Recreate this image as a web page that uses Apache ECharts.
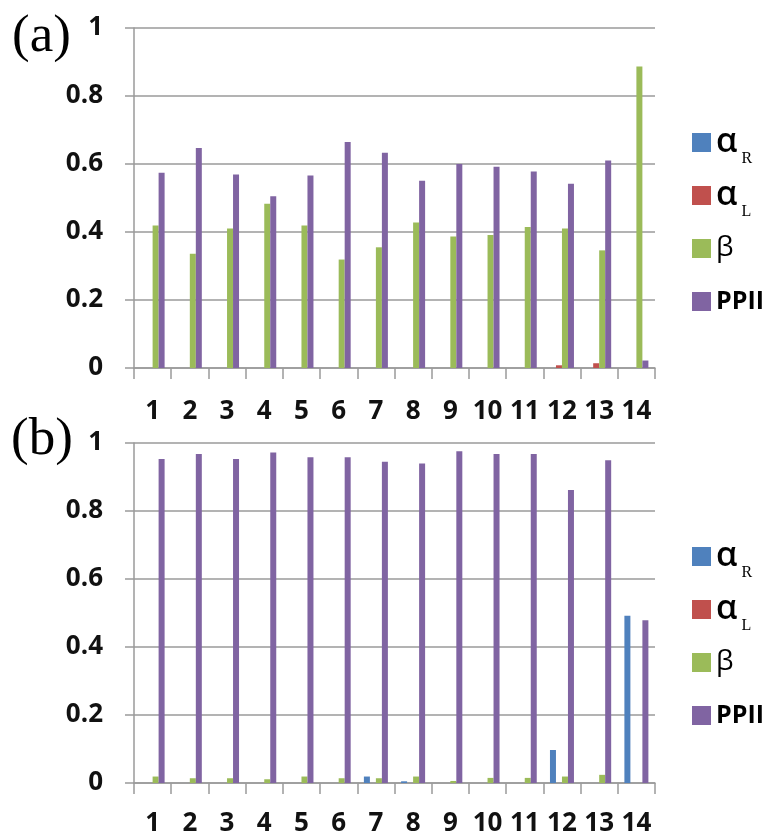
<!DOCTYPE html>
<html>
<head>
<meta charset="utf-8">
<script src="https://cdn.jsdelivr.net/npm/echarts@6/dist/echarts.min.js"></script>
<style>
  html, body { margin: 0; padding: 0; background: #fff; }
  #chart { width: 774px; height: 839px; }
</style>
</head>
<body>
<div id="chart"></div>
<script>
// ---- data ----
const categories = ['1', '2', '3', '4', '5', '6', '7', '8', '9', '10', '11', '12', '13', '14'];
const seriesNames = ['αR', 'αL', 'β', 'PPII'];

// panel (a)
const aAlphaR = [0, 0, 0, 0, 0, 0, 0, 0, 0, 0, 0, 0, 0, 0];
const aAlphaL = [0, 0, 0, 0, 0, 0, 0, 0, 0, 0, 0, 0.008, 0.014, 0];
const aBeta   = [0.419, 0.336, 0.410, 0.483, 0.419, 0.319, 0.355, 0.428, 0.387, 0.391, 0.415, 0.410, 0.346, 0.887];
const aPPII   = [0.574, 0.647, 0.569, 0.505, 0.566, 0.665, 0.633, 0.551, 0.600, 0.592, 0.578, 0.542, 0.610, 0.022];

// panel (b)
const bAlphaR = [0, 0, 0, 0, 0, 0, 0.019, 0.005, 0, 0, 0, 0.097, 0, 0.492];
const bAlphaL = [0, 0, 0, 0, 0, 0, 0, 0, 0, 0, 0, 0, 0, 0];
const bBeta   = [0.019, 0.014, 0.014, 0.011, 0.019, 0.014, 0.014, 0.019, 0.006, 0.015, 0.015, 0.019, 0.024, 0];
const bPPII   = [0.953, 0.968, 0.953, 0.972, 0.958, 0.958, 0.945, 0.940, 0.976, 0.968, 0.968, 0.862, 0.949, 0.479];

const colors = ['#4F81BD', '#C0504D', '#9BBB59', '#8064A2'];

// ---- chart ----
const chart = echarts.init(document.getElementById('chart'), null, { renderer: 'canvas' });

const labelFont = { fontFamily: 'Open Sans', fontWeight: 'bold', fontSize: 26, color: '#111' };
const gridColor = '#9a9a9a';

function xAxis(gridIndex, margin) {
  return {
    type: 'category', gridIndex: gridIndex, data: categories,
    axisLine: { show: true, lineStyle: { color: gridColor, width: 1.5 } },
    axisTick: { show: true, length: 11, lineStyle: { color: gridColor, width: 1.5 } },
    axisLabel: Object.assign({ interval: 0, margin: margin }, labelFont),
    splitLine: { show: false }
  };
}
function yAxis(gridIndex) {
  return {
    type: 'value', gridIndex: gridIndex, min: 0, max: 1, interval: 0.2,
    axisLine: { show: true, lineStyle: { color: gridColor, width: 1.5 } },
    axisTick: { show: true, length: 9, lineStyle: { color: gridColor, width: 1.5 } },
    axisLabel: Object.assign({ margin: 31 }, labelFont),
    splitLine: { show: true, lineStyle: { color: gridColor, width: 1.5 } }
  };
}

function legendFormatter(name) {
  if (name === 'αR') return '{g|α}{s|R}';
  if (name === 'αL') return '{g|α}{s|L}';
  if (name === 'β') return '{b|β}';
  return '{p|PPII}';
}
const legendRich = {
  g: { fontFamily: 'Open Sans', fontWeight: 600, fontSize: 34, lineHeight: 48, color: '#000' },
  s: { fontFamily: 'Liberation Serif', fontSize: 16, lineHeight: 48, padding: [32, 0, 0, 4], color: '#000' },
  b: { fontFamily: 'Open Sans', fontSize: 28, lineHeight: 48, color: '#000' },
  p: { fontFamily: 'Open Sans', fontWeight: 'bold', fontSize: 25, lineHeight: 48, color: '#000' }
};
function legend(top) {
  return {
    orient: 'vertical', left: 692, top: top, padding: 0, itemGap: 5,
    itemWidth: 19, itemHeight: 19, icon: 'rect',
    data: seriesNames, formatter: legendFormatter,
    textStyle: { rich: legendRich, lineHeight: 48, backgroundColor: 'rgba(255,255,255,0)' },
    selectedMode: false
  };
}

function barSeries(name, data, idx, color) {
  return {
    name: name, type: 'bar', xAxisIndex: idx, yAxisIndex: idx, data: data,
    barWidth: 6, barGap: '0%', itemStyle: { color: color }, animation: false
  };
}

const option = {
  animation: false,
  color: colors,
  grid: [
    { left: 134, top: 28, width: 521, height: 340 },
    { left: 134, top: 443, width: 521, height: 340 }
  ],
  xAxis: [xAxis(0, 31), xAxis(1, 28)],
  yAxis: [yAxis(0), yAxis(1)],
  legend: [legend(118.5), legend(532.5)],
  graphic: [
    { type: 'text', left: 12, top: 11, style: { text: '(a)', font: '53px "Liberation Serif"', fill: '#000' } },
    { type: 'text', left: 11, top: 414, style: { text: '(b)', font: '53px "Liberation Serif"', fill: '#000' } }
  ],
  series: [
    barSeries('αR', aAlphaR, 0, colors[0]),
    barSeries('αL', aAlphaL, 0, colors[1]),
    barSeries('β', aBeta, 0, colors[2]),
    barSeries('PPII', aPPII, 0, colors[3]),
    barSeries('αR', bAlphaR, 1, colors[0]),
    barSeries('αL', bAlphaL, 1, colors[1]),
    barSeries('β', bBeta, 1, colors[2]),
    barSeries('PPII', bPPII, 1, colors[3])
  ]
};
chart.setOption(option);
</script>
</body>
</html>
